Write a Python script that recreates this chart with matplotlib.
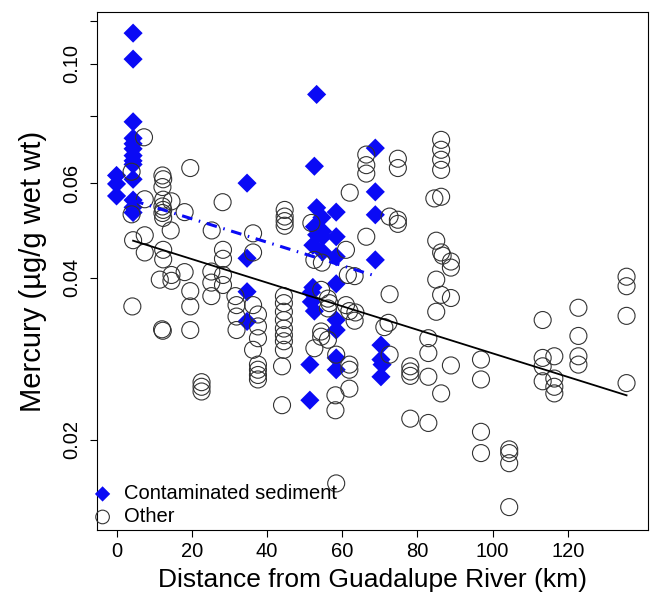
import matplotlib
matplotlib.use("Agg")
import matplotlib.pyplot as plt
import numpy as np

plt.rcParams['font.family'] = ['Liberation Sans', 'DejaVu Sans']

# Contaminated sediment sites (distance km, mercury ug/g wet wt)
contam_x = [0, 0, 0,
            4.4, 4.4, 4.4, 4.4, 4.4, 4.4, 4.4, 4.4, 4.4, 4.4, 4.4, 4.4, 4.4,
            34.7, 34.7, 34.7, 34.7,
            53.2, 52.6, 53.2, 54.6, 52.6, 54.8, 53.2, 54.8, 52.2, 54.8,
            52.2, 51.8, 51.8, 52.6, 51.4, 51.4,
            58.4, 58.4, 58.4, 58.4, 58.4, 58.4, 58.4, 58.4,
            68.8, 68.8, 68.8, 68.8, 70.3, 70.3, 70.6, 70.3]
contam_y = [0.062, 0.0598, 0.0568,
            0.114, 0.102, 0.078, 0.0727, 0.071, 0.0695, 0.0675, 0.066, 0.065,
            0.061, 0.0558, 0.0541, 0.0529,
            0.060, 0.0435, 0.0377, 0.0332,
            0.0877, 0.0645, 0.054, 0.0518, 0.0498, 0.0488, 0.0481, 0.0477,
            0.046, 0.0447, 0.0384, 0.0376, 0.0361, 0.0347, 0.0276, 0.0237,
            0.053, 0.0477, 0.0438, 0.039, 0.0334, 0.032, 0.0284, 0.027,
            0.0697, 0.0578, 0.0524, 0.0432, 0.0300, 0.0282, 0.0276, 0.0262]

# Other sites
other_x = [4.0, 4.0, 4.4, 4.2,
           7.3, 7.5, 7.5, 7.5,
           12.2, 12.4, 12.2, 12.4, 12.2, 12.4, 12.2, 12.4, 12.4, 12.4, 11.5, 12.1, 12.3,
           14.6, 14.4, 14.6, 14.6,
           18.1, 18.1,
           19.6, 19.6, 19.6, 19.6,
           22.6, 22.6, 22.6,
           25.3, 25.2, 25.2, 25.2,
           28.2, 28.3, 28.3, 28.3, 28.3,
           31.6, 31.9, 31.9, 31.9,
           36.3, 36.3, 36.3, 36.3,
           37.6, 37.6, 37.6, 37.6, 37.6, 37.6, 37.6,
           44.7, 44.7, 44.7, 44.7, 44.5, 44.5, 44.5, 44.5, 44.5, 44.5, 44.5, 44.5, 44.0, 44.0,
           51.8, 52.6, 54.6, 54.4, 56.2, 56.6, 56.2, 54.4, 54.4, 56.2, 52.6, 58.4, 58.2, 58.2, 58.4,
           62.0, 61.0, 61.5, 63.3, 61.0, 61.9, 63.5, 63.3, 61.9, 61.9, 61.9,
           66.4, 66.4, 66.4, 66.4,
           72.6, 72.6, 71.2, 72.3, 72.6,
           74.8, 74.8, 74.8, 74.8,
           78.1, 78.1, 78.1, 78.1,
           82.9, 82.9, 82.9, 82.9,
           86.3, 86.3, 86.3, 86.3, 84.5, 86.3, 85.0, 86.3, 86.7, 88.9, 88.9, 85.0, 86.3, 88.9,
           85.0, 86.3, 88.9,
           96.9, 96.9, 96.9, 96.9,
           104.4, 104.4, 104.4, 104.4,
           113.3, 113.3, 113.3, 113.3,
           116.4, 116.4, 116.4, 116.4,
           122.8, 122.8, 122.8, 122.8,
           135.6, 135.6, 135.6, 135.6]
other_y = [0.063, 0.0525, 0.047, 0.0354,
           0.073, 0.056, 0.048, 0.0446,
           0.062, 0.061, 0.059, 0.0559, 0.0543, 0.0535, 0.0528, 0.0517, 0.0451, 0.0433,
           0.0397, 0.0321, 0.0319,
           0.0555, 0.049, 0.0405, 0.0395,
           0.053, 0.041,
           0.064, 0.0378, 0.0354, 0.032,
           0.0256, 0.0251, 0.0246,
           0.049, 0.0411, 0.0392, 0.037,
           0.0553, 0.0451, 0.0434, 0.0405, 0.0388,
           0.037, 0.0356, 0.0339, 0.032,
           0.0484, 0.0446, 0.0356, 0.0294,
           0.0342, 0.0325, 0.0309, 0.0276, 0.027, 0.0264, 0.0259,
           0.0535, 0.052, 0.051, 0.050, 0.037, 0.0359, 0.0346, 0.0334, 0.0322, 0.0313,
           0.0305, 0.0294, 0.0274, 0.0232,
           0.0506, 0.0432, 0.0427, 0.038, 0.0366, 0.0359, 0.0351, 0.0318, 0.0311, 0.0307,
           0.0296, 0.0288, 0.0242, 0.0227, 0.0166,
           0.0576, 0.0451, 0.0405, 0.0403, 0.0356, 0.0347, 0.0345, 0.0333, 0.0276, 0.027,
           0.0249,
           0.0678, 0.0648, 0.0625, 0.0477,
           0.052, 0.0373, 0.0324, 0.033, 0.0288,
           0.0666, 0.064, 0.0513, 0.0504,
           0.0274, 0.0268, 0.0263, 0.0219,
           0.0309, 0.029, 0.0262, 0.0215,
           0.0722, 0.0692, 0.0663, 0.0635, 0.0562, 0.0566, 0.0469, 0.0446, 0.044, 0.0429,
           0.0418, 0.0397, 0.0372, 0.0367, 0.0346, 0.0244, 0.0275,
           0.0282, 0.0259, 0.0207, 0.0189,
           0.0192, 0.0189, 0.0181, 0.0150,
           0.0334, 0.0284, 0.0274, 0.0257,
           0.0286, 0.026, 0.0251, 0.0244,
           0.0352, 0.0312, 0.0286, 0.0276,
           0.0402, 0.0386, 0.034, 0.0255]

# Fitted lines (end points)
other_fit_x = [4.4, 135.6]
other_fit_y = [0.0469, 0.0242]
contam_fit_x = [4.4, 69.0]
contam_fit_y = [0.0557, 0.0403]

y_ticks = [0.02, 0.04, 0.06, 0.08, 0.10, 0.12]
y_tick_labels = ['0.02', '0.04', '0.06', '', '0.10', '']
x_ticks = [0, 20, 40, 60, 80, 100, 120]

blue = '#0a0af5'

fig = plt.figure(figsize=(6.54, 6.08), dpi=100)
ax = fig.add_axes([0.1483, 0.1283, 0.8425, 0.852])

ax.scatter(contam_x, contam_y, marker='D', s=95, color=blue, edgecolors='none',
           zorder=2, label='Contaminated sediment')
ax.scatter(other_x, other_y, marker='o', s=150, facecolors='none',
           edgecolors='#333333', linewidths=0.8, zorder=3, label='Other')

ax.plot(other_fit_x, other_fit_y, color='black', lw=1.3, zorder=4)
ax.plot(contam_fit_x, contam_fit_y, color=blue, lw=2.2,
        linestyle=(0, (3.5, 2.2, 0.5, 2.2)), zorder=4)

ax.set_yscale('log')
ax.set_xlim(-5.2, 141.3)
ax.set_ylim(0.0136, 0.1248)
ax.set_yticks(y_ticks)
ax.set_yticklabels(y_tick_labels)
ax.yaxis.set_minor_locator(matplotlib.ticker.NullLocator())
ax.set_xticks(x_ticks)

ax.tick_params(axis='both', direction='out', length=5, width=0.8, labelsize=14.5)
ax.tick_params(axis='y', pad=6)
ax.tick_params(axis='x', pad=4)
for lab in ax.get_yticklabels():
    lab.set_rotation(90)
    lab.set_va('center')

for sp in ax.spines.values():
    sp.set_linewidth(0.8)

ax.set_xlabel('Distance from Guadalupe River (km)', fontsize=19, labelpad=5)
ax.set_ylabel('Mercury (µg/g wet wt)', fontsize=21, labelpad=11)

ax.legend(loc='lower left', bbox_to_anchor=(-0.052, -0.02), frameon=False,
          fontsize=14.5, handletextpad=0.05, borderaxespad=0.3, labelspacing=0.2,
          markerscale=0.8)

fig.savefig('out.png', dpi=100)
